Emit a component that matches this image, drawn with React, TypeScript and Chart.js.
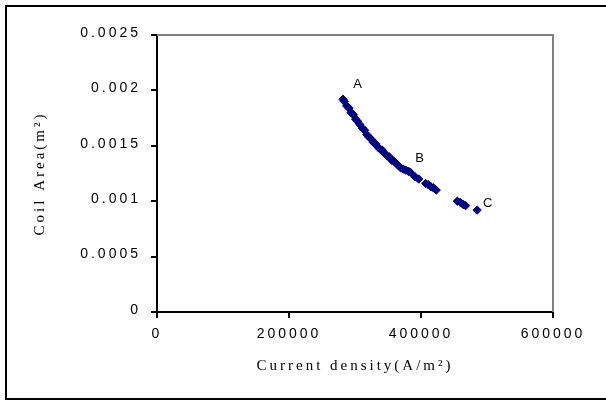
import React, { useEffect, useRef } from "react";
import { Chart, registerables } from "chart.js";

Chart.register(...registerables);

const currentDensity = [
  281800, 284000, 287500, 291000, 294000, 297500, 301000, 304000, 307500, 311000,
  314500, 318000, 321000, 324500, 328000, 331000, 334500, 338000, 341500, 345000,
  348500, 352000, 355500, 359000, 362500, 366000, 369500, 373000, 377000, 381000,
  384000, 391000, 396500, 407000, 411000, 415000, 419000, 423000, 455000, 459500,
  464000, 467500, 485000,
];
const coilArea = [
  0.00192, 0.0019, 0.00186, 0.00184, 0.0018, 0.00178, 0.00174, 0.00172, 0.00169, 0.00166,
  0.00164, 0.0016, 0.00158, 0.00156, 0.00153, 0.00152, 0.00149, 0.00147, 0.00146, 0.00143,
  0.00141, 0.0014, 0.00137, 0.00136, 0.00134, 0.00132, 0.0013, 0.00129, 0.00128, 0.00127,
  0.00126, 0.00122, 0.0012, 0.00116, 0.00115, 0.00113, 0.00112, 0.0011, 0.001, 0.00099,
  0.00097, 0.00096, 0.00092,
];

const pointLabels = ["A", "B", "C"];
const pointLabelX = [304000, 398000, 501000];
const pointLabelY = [0.00205, 0.00139, 0.000983];

const xTickLabels = ["0", "200000", "400000", "600000"];
const yTickLabels = ["0", "0.0005", "0.001", "0.0015", "0.002", "0.0025"];

const xTitle = "Current density(A/m²)";
const yTitle = "Coil Area(m²)";

export default function App() {
  const ref = useRef<HTMLCanvasElement>(null);

  useEffect(() => {
    if (!ref.current) return;
    const framePlugin = {
      id: "frame",
      beforeDraw(chart: any) {
        chart.ctx.letterSpacing = "3px";
      },
      afterDatasetsDraw(chart: any) {
        const { ctx, chartArea, scales } = chart;
        ctx.save();
        ctx.letterSpacing = "0px";
        ctx.strokeStyle = "#808080";
        ctx.lineWidth = 2;
        ctx.beginPath();
        ctx.moveTo(chartArea.left, chartArea.top);
        ctx.lineTo(chartArea.right, chartArea.top);
        ctx.lineTo(chartArea.right, chartArea.bottom);
        ctx.stroke();
        ctx.fillStyle = "#000";
        ctx.font = "13px 'Liberation Sans', Arial, sans-serif";
        ctx.textAlign = "center";
        ctx.textBaseline = "middle";
        pointLabels.forEach((t, i) => {
          ctx.fillText(
            t,
            scales.x.getPixelForValue(pointLabelX[i]),
            scales.y.getPixelForValue(pointLabelY[i])
          );
        });
        ctx.restore();
      },
      afterDraw(chart: any) {
        const { ctx } = chart;
        ctx.save();
        ctx.letterSpacing = "0px";
        ctx.strokeStyle = "#000";
        ctx.lineWidth = 2;
        ctx.beginPath();
        ctx.moveTo(620, 6);
        ctx.lineTo(6, 6);
        ctx.lineTo(6, 399);
        ctx.lineTo(620, 399);
        ctx.stroke();
        ctx.restore();
      },
    };

    const chart = new Chart(ref.current, {
      type: "scatter",
      data: {
        datasets: [
          {
            data: currentDensity.map((x, i) => ({ x, y: coilArea[i] })),
            pointStyle: "rectRot",
            pointRadius: 4.2,
            pointBorderWidth: 1,
            backgroundColor: "#000080",
            borderColor: "#000080",
          },
        ],
      },
      options: {
        animation: false,
        responsive: false,
        devicePixelRatio: 1,
        layout: { padding: { left: 0, top: 35, right: 53, bottom: 0 } },
        plugins: { legend: { display: false }, tooltip: { enabled: false } },
        scales: {
          x: {
            type: "linear",
            min: 0,
            max: 600000,
            afterFit: (s: any) => {
              s.height = 89;
            },
            ticks: {
              stepSize: 200000,
              padding: 8,
              color: "#000",
              font: { family: "'Liberation Sans', Arial, sans-serif", size: 14 },
              callback: (_v: any, i: number) => xTickLabels[i],
              maxRotation: 0,
            },
            grid: {
              drawOnChartArea: false,
              drawTicks: true,
              tickLength: 6,
              color: "#000",
              lineWidth: 2,
            },
            border: { display: true, color: "#000", width: 2 },
            title: {
              display: true,
              text: xTitle,
              color: "#000",
              font: { family: "'Liberation Serif', 'Times New Roman', serif", size: 15 },
              padding: { top: 4, bottom: 26 },
            },
          },
          y: {
            type: "linear",
            min: 0,
            max: 0.0025,
            afterFit: (s: any) => {
              s.width = 157;
            },
            ticks: {
              stepSize: 0.0005,
              padding: 10,
              labelOffset: -2,
              color: "#000",
              font: { family: "'Liberation Sans', Arial, sans-serif", size: 14 },
              callback: (_v: any, i: number) => yTickLabels[i],
            },
            grid: {
              drawOnChartArea: false,
              drawTicks: true,
              tickLength: 6,
              color: "#000",
              lineWidth: 2,
            },
            border: { display: true, color: "#000", width: 2 },
            title: {
              display: true,
              text: yTitle,
              color: "#000",
              font: { family: "'Liberation Serif', 'Times New Roman', serif", size: 15 },
              padding: { top: 31, bottom: 4 },
            },
          },
        },
      },
      plugins: [framePlugin],
    });
    return () => chart.destroy();
  }, []);

  return (
    <div style={{ position: "absolute", left: 0, top: 0, width: 606, height: 401 }}>
      <canvas ref={ref} width={606} height={401} style={{ width: 606, height: 401 }} />
    </div>
  );
}
